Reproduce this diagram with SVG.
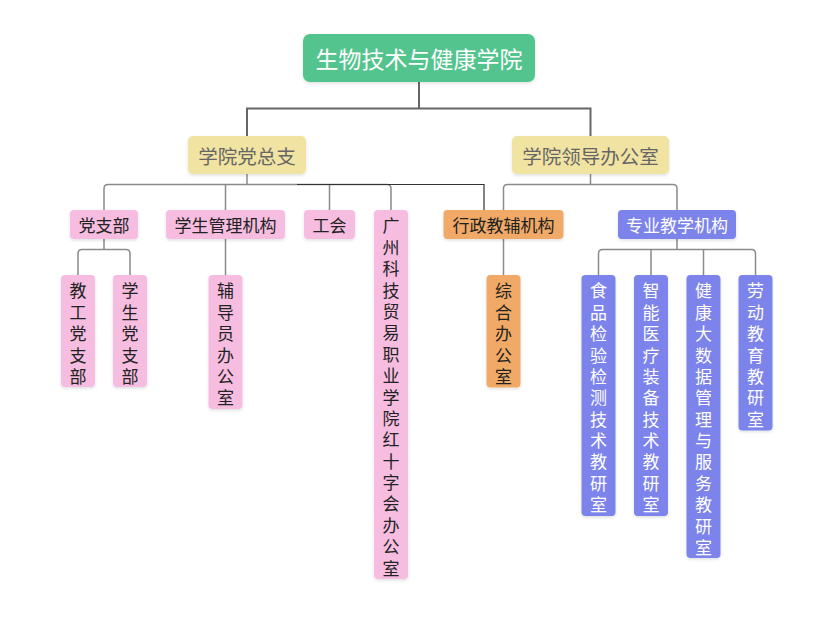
<svg xmlns="http://www.w3.org/2000/svg" width="833" height="640" viewBox="0 0 833 640">
<defs>
<filter id="sh" x="-20%" y="-20%" width="140%" height="140%"><feDropShadow dx="0" dy="1.5" stdDeviation="1.5" flood-color="#000" flood-opacity="0.12"/></filter>
<style>
text{font-family:"Noto Sans CJK SC","Noto Sans",sans-serif;text-anchor:middle;dominant-baseline:central}
.root rect{fill:#52c48d}
.root text{fill:#fff;font-size:23px}
.l1 rect{fill:#f1e3a1}
.l1 text{fill:#666;font-size:19.5px}
.pink rect{fill:#f6bde0}
.orange rect{fill:#f0a966}
.purple rect{fill:#7b83ea}
.pink text,.orange text{fill:#222;font-size:17px}
.purple text{fill:#fff;font-size:17px}
rect{filter:url(#sh)}
.c1{fill:none;stroke:#666;stroke-width:2}
.c2{fill:none;stroke:#8a8a8a;stroke-width:1.5}
.c3{fill:none;stroke:#333;stroke-width:1.2}
</style>
</defs>
<rect width="833" height="640" fill="#fff" style="filter:none"/>
<g id="connectors">
<path class="c1" d="M419 82V108.5H247V136M419 108.5H590.5V136"/>
<path class="c2" d="M247 174V184.5M104 210V188.5Q104 184.5 108 184.5H387Q391 184.5 391 188.5V210M225.5 184.5V210M329.5 184.5V210"/>
<path class="c3" d="M297 184.5H484V210"/>
<path class="c2" d="M590.5 174V184.5M503.5 210V188.5Q503.5 184.5 507.5 184.5H673Q677 184.5 677 188.5V210"/>
<path class="c2" d="M104 239V249.5M78 275V253.5Q78 249.5 82 249.5H126Q130 249.5 130 253.5V275"/>
<path class="c2" d="M225.5 239V275M503.5 239V275"/>
<path class="c2" d="M677 239V249.5M598.5 275V253.5Q598.5 249.5 602.5 249.5H751.5Q755.5 249.5 755.5 253.5V275M651 249.5V275M703.5 249.5V275"/>
</g>
<g id="root" class="root"><rect x="303" y="34" width="232" height="48" rx="7"/><text x="419" y="58">生物技术与健康学院</text></g>
<g id="dangzongzhi" class="l1"><rect x="188" y="136" width="118" height="38" rx="5"/><text x="247" y="155">学院党总支</text></g>
<g id="lingdao" class="l1"><rect x="512" y="136" width="157" height="38" rx="5"/><text x="590.5" y="155">学院领导办公室</text></g>
<g id="dangzhibu" class="pink"><rect x="70" y="210" width="68" height="29" rx="4"/><text x="104" y="224.5">党支部</text></g>
<g id="xuesheng" class="pink"><rect x="166" y="210" width="119" height="29" rx="4"/><text x="225.5" y="224.5">学生管理机构</text></g>
<g id="gonghui" class="pink"><rect x="304" y="210" width="51" height="29" rx="4"/><text x="329.5" y="224.5">工会</text></g>
<g id="hongshizi" class="pink"><rect x="374" y="210" width="34" height="369" rx="4"/><text x="391" y="224.3"><tspan x="391">广</tspan><tspan x="391" dy="21.4">州</tspan><tspan x="391" dy="21.4">科</tspan><tspan x="391" dy="21.4">技</tspan><tspan x="391" dy="21.4">贸</tspan><tspan x="391" dy="21.4">易</tspan><tspan x="391" dy="21.4">职</tspan><tspan x="391" dy="21.4">业</tspan><tspan x="391" dy="21.4">学</tspan><tspan x="391" dy="21.4">院</tspan><tspan x="391" dy="21.4">红</tspan><tspan x="391" dy="21.4">十</tspan><tspan x="391" dy="21.4">字</tspan><tspan x="391" dy="21.4">会</tspan><tspan x="391" dy="21.4">办</tspan><tspan x="391" dy="21.4">公</tspan><tspan x="391" dy="21.4">室</tspan></text></g>
<g id="xingzheng" class="orange"><rect x="443.5" y="210" width="120" height="29" rx="4"/><text x="503.5" y="224.5">行政教辅机构</text></g>
<g id="zhuanye" class="purple"><rect x="618" y="210" width="118" height="29" rx="4"/><text x="677" y="224.5">专业教学机构</text></g>
<g id="jiaogong" class="pink"><rect x="61" y="275" width="34" height="112" rx="4"/><text x="78" y="289.3"><tspan x="78">教</tspan><tspan x="78" dy="21.4">工</tspan><tspan x="78" dy="21.4">党</tspan><tspan x="78" dy="21.4">支</tspan><tspan x="78" dy="21.4">部</tspan></text></g>
<g id="xueshengdang" class="pink"><rect x="113" y="275" width="34" height="112" rx="4"/><text x="130" y="289.3"><tspan x="130">学</tspan><tspan x="130" dy="21.4">生</tspan><tspan x="130" dy="21.4">党</tspan><tspan x="130" dy="21.4">支</tspan><tspan x="130" dy="21.4">部</tspan></text></g>
<g id="fudaoyuan" class="pink"><rect x="208.5" y="275" width="34" height="134" rx="4"/><text x="225.5" y="289.3"><tspan x="225.5">辅</tspan><tspan x="225.5" dy="21.4">导</tspan><tspan x="225.5" dy="21.4">员</tspan><tspan x="225.5" dy="21.4">办</tspan><tspan x="225.5" dy="21.4">公</tspan><tspan x="225.5" dy="21.4">室</tspan></text></g>
<g id="zonghe" class="orange"><rect x="486.5" y="275" width="34" height="112.5" rx="4"/><text x="503.5" y="289.3"><tspan x="503.5">综</tspan><tspan x="503.5" dy="21.4">合</tspan><tspan x="503.5" dy="21.4">办</tspan><tspan x="503.5" dy="21.4">公</tspan><tspan x="503.5" dy="21.4">室</tspan></text></g>
<g id="shipin" class="purple"><rect x="581.5" y="275" width="34" height="241" rx="4"/><text x="598.5" y="289.3"><tspan x="598.5">食</tspan><tspan x="598.5" dy="21.4">品</tspan><tspan x="598.5" dy="21.4">检</tspan><tspan x="598.5" dy="21.4">验</tspan><tspan x="598.5" dy="21.4">检</tspan><tspan x="598.5" dy="21.4">测</tspan><tspan x="598.5" dy="21.4">技</tspan><tspan x="598.5" dy="21.4">术</tspan><tspan x="598.5" dy="21.4">教</tspan><tspan x="598.5" dy="21.4">研</tspan><tspan x="598.5" dy="21.4">室</tspan></text></g>
<g id="zhineng" class="purple"><rect x="634" y="275" width="34" height="241" rx="4"/><text x="651" y="289.3"><tspan x="651">智</tspan><tspan x="651" dy="21.4">能</tspan><tspan x="651" dy="21.4">医</tspan><tspan x="651" dy="21.4">疗</tspan><tspan x="651" dy="21.4">装</tspan><tspan x="651" dy="21.4">备</tspan><tspan x="651" dy="21.4">技</tspan><tspan x="651" dy="21.4">术</tspan><tspan x="651" dy="21.4">教</tspan><tspan x="651" dy="21.4">研</tspan><tspan x="651" dy="21.4">室</tspan></text></g>
<g id="jiankang" class="purple"><rect x="686.5" y="275" width="34" height="283" rx="4"/><text x="703.5" y="289.3"><tspan x="703.5">健</tspan><tspan x="703.5" dy="21.4">康</tspan><tspan x="703.5" dy="21.4">大</tspan><tspan x="703.5" dy="21.4">数</tspan><tspan x="703.5" dy="21.4">据</tspan><tspan x="703.5" dy="21.4">管</tspan><tspan x="703.5" dy="21.4">理</tspan><tspan x="703.5" dy="21.4">与</tspan><tspan x="703.5" dy="21.4">服</tspan><tspan x="703.5" dy="21.4">务</tspan><tspan x="703.5" dy="21.4">教</tspan><tspan x="703.5" dy="21.4">研</tspan><tspan x="703.5" dy="21.4">室</tspan></text></g>
<g id="laodong" class="purple"><rect x="738.5" y="275" width="34" height="155.5" rx="4"/><text x="755.5" y="289.3"><tspan x="755.5">劳</tspan><tspan x="755.5" dy="21.4">动</tspan><tspan x="755.5" dy="21.4">教</tspan><tspan x="755.5" dy="21.4">育</tspan><tspan x="755.5" dy="21.4">教</tspan><tspan x="755.5" dy="21.4">研</tspan><tspan x="755.5" dy="21.4">室</tspan></text></g>
</svg>
